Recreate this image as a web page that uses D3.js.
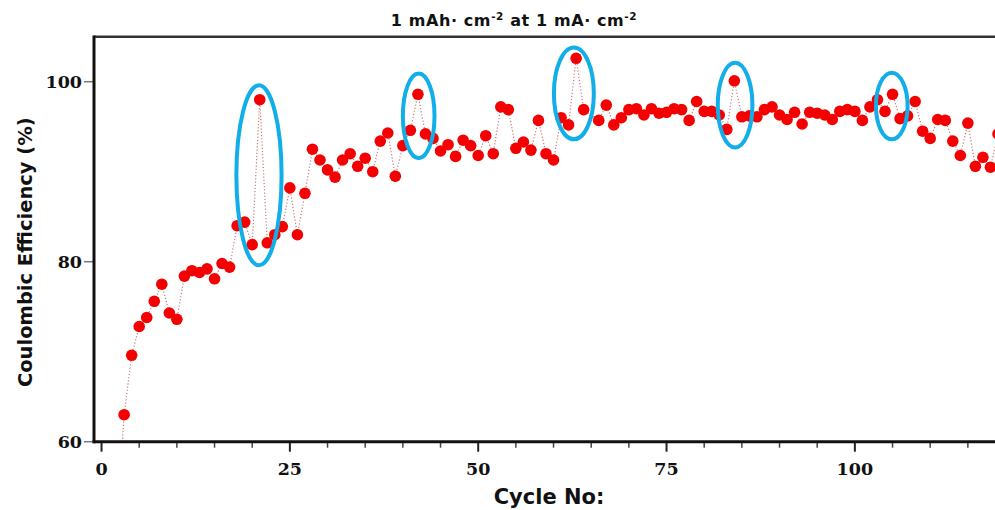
<!DOCTYPE html>
<html>
<head>
<meta charset="utf-8">
<script src="https://cdn.jsdelivr.net/npm/d3@7/dist/d3.min.js"></script>
<style>
  html, body { margin: 0; padding: 0; background: #fff; overflow: hidden; }
  svg { display: block; }
</style>
</head>
<body>
<svg id="chart" width="995" height="510"></svg>
<script>
// ---- data ----
const cycles = [2,3,4,5,6,7,8,9,10,11,12,13,14,15,16,17,18,19,20,21,22,23,24,25,26,27,28,29,30,
  31,32,33,34,35,36,37,38,39,40,41,42,43,44,45,46,47,48,49,50,51,52,53,54,55,56,57,58,59,60,
  61,62,63,64,66,67,68,69,70,71,72,73,74,75,76,77,78,79,80,81,82,83,84,85,86,87,88,89,90,
  91,92,93,94,95,96,97,98,99,100,101,102,103,104,105,106,107,108,109,110,111,112,113,114,115,
  116,117,118,119];
const efficiency = [50.4,63.0,69.6,72.8,73.8,75.6,77.5,74.3,73.6,78.4,79.0,78.8,79.2,78.1,79.8,79.4,84.0,84.4,81.9,98.0,82.1,83.0,83.9,88.2,83.0,87.6,92.5,91.3,90.2,
  89.4,91.3,92.0,90.6,91.5,90.0,93.4,94.3,89.5,92.9,94.6,98.6,94.2,93.7,92.3,93.0,91.7,93.5,92.9,91.8,94.0,92.0,97.2,96.9,92.6,93.3,92.4,95.7,92.0,91.3,
  96.0,95.2,102.6,96.9,95.7,97.4,95.2,96.0,96.9,97.0,96.3,97.0,96.5,96.6,97.0,96.9,95.7,97.8,96.7,96.7,96.3,94.7,100.1,96.1,96.2,96.1,96.9,97.2,96.3,
  95.8,96.6,95.3,96.6,96.5,96.3,95.8,96.7,96.9,96.7,95.7,97.2,98.0,96.7,98.6,95.9,96.2,97.8,94.5,93.7,95.8,95.7,93.4,91.8,95.4,
  90.6,91.6,90.5,94.2];
const xTicks = [0, 25, 50, 75, 100];
const xMinorTicks = [5,10,15,20,30,35,40,45,55,60,65,70,80,85,90,95,105,110,115];
const yTicks = [60, 80, 100];
// highlighted peaks (annotation ellipses): centre cycle, centre value, half-width (cycles), half-height (%)
const annCycle = [20.9, 42.1, 62.7, 84.1, 104.9];
const annValue = [89.6, 96.2, 98.7, 97.4, 97.3];
const annHalfW = [3.0, 2.1, 2.65, 2.3, 2.1];
const annHalfH = [10.0, 4.7, 5.1, 4.7, 3.7];
const xLabel = "Cycle No:";
const yLabel = "Coulombic Efficiency (%)";

// ---- layout ----
const svg = d3.select("#chart");
const pLeft = 94, pTop = 36.7, pBottom = 441.7;
const x = d3.scaleLinear().domain([-1, 119]).range([pLeft, 998]);
const y = d3.scaleLinear().domain([60, 105]).range([pBottom, pTop]);

const defs = svg.append("defs");
defs.append("clipPath").attr("id", "plotclip")
  .append("rect").attr("x", pLeft).attr("y", pTop).attr("width", 995 - pLeft).attr("height", pBottom - pTop);

// title
const title = svg.append("text")
  .attr("x", 514).attr("y", 26)
  .attr("text-anchor", "middle")
  .attr("font-family", "'DejaVu Sans', sans-serif")
  .attr("font-weight", "bold").attr("font-size", 16).attr("letter-spacing", 0.6).attr("fill", "#111");
title.append("tspan").text("1 mAh\u00b7 cm");
title.append("tspan").attr("dy", -6).attr("font-size", 10.5).text("-2");
title.append("tspan").attr("dy", 6).text(" at 1 mA\u00b7 cm");
title.append("tspan").attr("dy", -6).attr("font-size", 10.5).text("-2");

// top border
svg.append("line").attr("x1", pLeft).attr("x2", 995).attr("y1", pTop).attr("y2", pTop)
  .attr("stroke", "#333").attr("stroke-width", 2.5);

// data line + points
const pts = cycles.map((c, i) => ({c: c, v: efficiency[i]}));
const plot = svg.append("g").attr("clip-path", "url(#plotclip)");
plot.append("path").datum(pts)
  .attr("fill", "none").attr("stroke", "#c97a7a").attr("stroke-width", 1.2)
  .attr("stroke-dasharray", "1.2,2")
  .attr("d", d3.line().x(d => x(d.c)).y(d => y(d.v)));
plot.selectAll("circle.pt").data(pts).enter().append("circle")
  .attr("class", "pt")
  .attr("cx", d => x(d.c)).attr("cy", d => y(d.v)).attr("r", 5.8)
  .attr("fill", "#f40000");

// annotation ellipses
svg.selectAll("ellipse.ann").data(annCycle).enter().append("ellipse")
  .attr("class", "ann")
  .attr("cx", (d) => x(d))
  .attr("cy", (d, i) => y(annValue[i]))
  .attr("rx", (d, i) => x(d + annHalfW[i]) - x(d))
  .attr("ry", (d, i) => y(annValue[i] - annHalfH[i]) - y(annValue[i]))
  .attr("fill", "none").attr("stroke", "#12aeea").attr("stroke-width", 4);

// x axis
const xAxisG = svg.append("g").attr("transform", `translate(0,${pBottom})`);
xAxisG.selectAll("line.minor").data(xMinorTicks).enter().append("line")
  .attr("x1", d => x(d)).attr("x2", d => x(d)).attr("y1", 0).attr("y2", 6)
  .attr("stroke", "#444").attr("stroke-width", 1.5);
xAxisG.selectAll("line.major").data(xTicks).enter().append("line")
  .attr("x1", d => x(d)).attr("x2", d => x(d)).attr("y1", 0).attr("y2", 10)
  .attr("stroke", "#222").attr("stroke-width", 2);
xAxisG.selectAll("text").data(xTicks).enter().append("text")
  .attr("x", d => x(d)).attr("y", 33)
  .attr("text-anchor", "middle")
  .attr("font-family", "'DejaVu Serif', serif").attr("font-weight", "bold").attr("font-size", 17.5)
  .attr("fill", "#111").text(d => d);
xAxisG.append("line").attr("x1", pLeft - 1.5).attr("x2", 995).attr("y1", 0).attr("y2", 0)
  .attr("stroke", "#111").attr("stroke-width", 3);

// y axis
const yAxisG = svg.append("g");
yAxisG.selectAll("line.tick").data(yTicks).enter().append("line")
  .attr("x1", pLeft - 10).attr("x2", pLeft).attr("y1", d => y(d)).attr("y2", d => y(d))
  .attr("stroke", "#777").attr("stroke-width", 1.5);
yAxisG.selectAll("text").data(yTicks).enter().append("text")
  .attr("x", pLeft - 12).attr("y", d => y(d)).attr("dy", "0.36em")
  .attr("text-anchor", "end")
  .attr("font-family", "'DejaVu Serif', serif").attr("font-weight", "bold").attr("font-size", 17.5)
  .attr("fill", "#111").text(d => d);
yAxisG.append("line").attr("x1", pLeft).attr("x2", pLeft).attr("y1", pTop - 1.2).attr("y2", pBottom + 1.5)
  .attr("stroke", "#111").attr("stroke-width", 3);

// axis titles
svg.append("text")
  .attr("x", 549).attr("y", 504)
  .attr("text-anchor", "middle")
  .attr("font-family", "'DejaVu Sans', sans-serif").attr("font-weight", "bold").attr("font-size", 21)
  .attr("fill", "#111").text(xLabel);
svg.append("text")
  .attr("transform", `translate(32,${(pTop + pBottom) / 2 + 13}) rotate(-90)`)
  .attr("text-anchor", "middle")
  .attr("font-family", "'DejaVu Sans', sans-serif").attr("font-weight", "bold").attr("font-size", 19.5)
  .attr("fill", "#111").text(yLabel);
</script>
</body>
</html>
